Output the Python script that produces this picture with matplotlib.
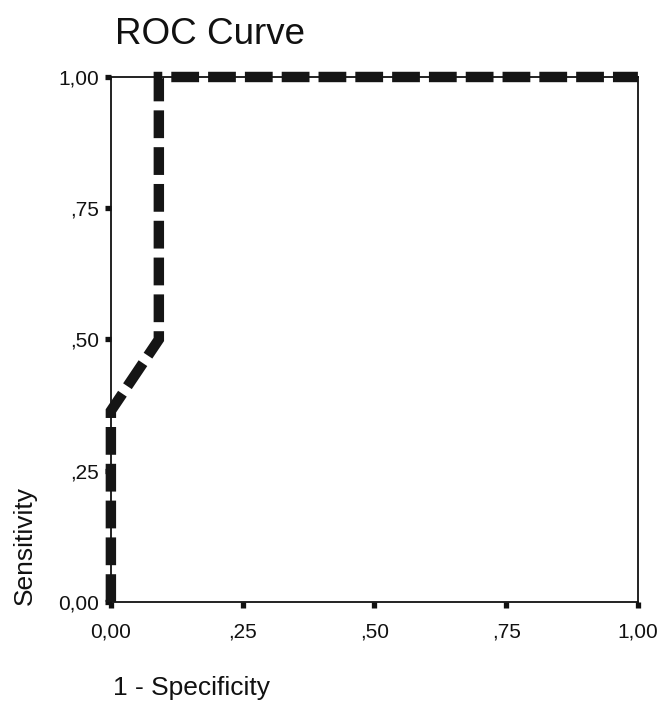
import matplotlib
matplotlib.use("Agg")
import matplotlib.pyplot as plt

# ROC curve points
fpr = [0.0, 0.0, 0.091, 0.091, 1.0]
tpr = [0.0, 0.364, 0.5, 1.0, 1.0]
ticks = [0.0, 0.25, 0.5, 0.75, 1.0]
tick_labels = ["0,00", ",25", ",50", ",75", "1,00"]

plt.rcParams['font.family'] = ['Liberation Sans', 'DejaVu Sans']
plt.rcParams['lines.scale_dashes'] = False

fig = plt.figure(figsize=(6.6, 7.05), dpi=100)
ax = fig.add_axes([0.168, 0.1461, 0.7985, 0.7447])

ax.plot(fpr, tpr, color="#151515", linewidth=7.5, dashes=(20, 6.5),
        solid_joinstyle="miter", dash_capstyle="butt", dash_joinstyle="miter",
        clip_on=False, zorder=3)

ax.set_xlim(0, 1)
ax.set_ylim(0, 1)
ax.set_xticks(ticks)
ax.set_xticklabels(tick_labels)
ax.set_yticks(ticks)
ax.set_yticklabels(tick_labels)
ax.tick_params(axis="both", direction="out", length=4.5, width=3.8,
               color="#111111", labelsize=15, labelcolor="#111111")
ax.tick_params(axis="x", pad=10)
ax.tick_params(axis="y", pad=4)
for s in ax.spines.values():
    s.set_linewidth(1.3)
    s.set_color("#111111")

fig.text(115 / 660, 1 - 35 / 705, "ROC Curve", fontsize=26.5, color="#111111",
         ha="left", va="center")
fig.text(113 / 660, 1 - 688 / 705, "1 - Specificity", fontsize=19, color="#111111",
         ha="left", va="center")
fig.text(25 / 660, 1 - 605 / 705, "Sensitivity", fontsize=19, color="#111111",
         rotation=90, ha="center", va="bottom")

fig.savefig("out.png", dpi=100)
